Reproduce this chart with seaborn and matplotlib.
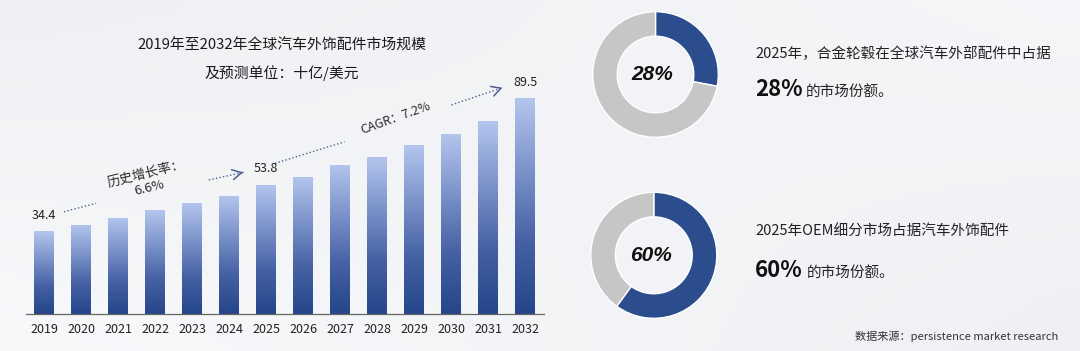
import numpy as np
import matplotlib
matplotlib.use("Agg")
import matplotlib.pyplot as plt
import seaborn as sns
from matplotlib.colors import LinearSegmentedColormap

# ---------------- data ----------------
years = ["2019", "2020", "2021", "2022", "2023", "2024", "2025",
         "2026", "2027", "2028", "2029", "2030", "2031", "2032"]
market_size = [34.4, 37.1, 39.9, 43.1, 46.0, 49.0, 53.8,
               57.0, 61.9, 65.2, 70.0, 74.9, 80.1, 89.5]
labeled_years = ["2019", "2025", "2032"]
title_lines = ["2019年至2032年全球汽车外饰配件市场规模", "及预测单位：十亿/美元"]
hist_label = "历史增长率：\n6.6%"
cagr_label = "CAGR：7.2%"

share_alloy = [28, 72]
share_oem = [60, 40]
share_alloy_label = "28%"
share_oem_label = "60%"
text_alloy = "2025年，合金轮毂在全球汽车外部配件中占据"
text_oem = "2025年OEM细分市场占据汽车外饰配件"
text_suffix = "的市场份额。"
source_text = "数据来源：persistence market research"

# ---------------- style ----------------
sns.set_theme(style="white")
plt.rcParams["font.family"] = ["Noto Sans CJK SC", "DejaVu Sans"]

W, H = 1080, 351
fig = plt.figure(figsize=(W / 100, H / 100), dpi=100)
fig.patch.set_facecolor("#f3f4f6")

def fx(px):
    return px / W

def fy(py):
    return 1 - py / H

# soft background gradient
bg = fig.add_axes([0, 0, 1, 1], zorder=-10)
gx = np.linspace(0, 1, 200)
gy = np.linspace(0, 1, 80)
GX, GY = np.meshgrid(gx, gy)
grad = 0.6 * (1 - GX) * (1 - GY) + 0.4 * GX * GY
bg_cmap = LinearSegmentedColormap.from_list("bg", ["#eef0f3", "#f8f9fb"])
bg.imshow(grad, cmap=bg_cmap, aspect="auto", extent=[0, 1, 0, 1], origin="lower")
bg.set_axis_off()

# ---------------- bar chart ----------------
BLUE_DARK = "#25458a"
ax = fig.add_axes([fx(25.8), 36.7 / H, fx(517.7), 294.3 / H])
ax.set_facecolor("none")
sns.barplot(x=years, y=market_size, color="#5a75b0", width=0.54,
            saturation=1, ax=ax)

bar_cmap = LinearSegmentedColormap.from_list(
    "bar", [BLUE_DARK, "#4561a4", "#7c93ca", "#b4c6ee"])
gvals = np.linspace(0, 1, 256).reshape(-1, 1)
for p in ax.patches:
    x0, y0 = p.get_x(), p.get_y()
    w, h = p.get_width(), p.get_height()
    im = ax.imshow(gvals, cmap=bar_cmap, origin="lower", aspect="auto",
                   extent=[x0, x0 + w, y0, y0 + h], zorder=p.get_zorder())
    im.set_clip_path(p)
    p.set_facecolor("none")
    p.set_edgecolor("none")

for yr in labeled_years:
    i = years.index(yr)
    v = market_size[i]
    ax.annotate(f"{v}", (i, v), xytext=(0, 11.5), textcoords="offset points",
                ha="center", va="center", fontsize=9, color="#222222")

LINE_C = "#4d5f8c"
dot = (0, (1, 1.6))
# dotted trend guides
ax.plot([0.53, 1.40], [42.5, 46.0], color=LINE_C, lw=1.0, linestyle=dot)
ax.plot([4.45, 5.40], [55.7, 58.9], color=LINE_C, lw=1.0, linestyle=dot)
ax.annotate("", xy=(5.45, 59.1), xytext=(5.30, 58.6),
            arrowprops=dict(arrowstyle="->,head_length=0.55,head_width=0.3",
                            color=LINE_C, lw=1.1))
ax.plot([6.24, 8.12], [62.6, 71.5], color=LINE_C, lw=1.0, linestyle=dot)
ax.plot([11.01, 12.40], [86.8, 94.0], color=LINE_C, lw=1.0, linestyle=dot)
ax.annotate("", xy=(12.46, 94.3), xytext=(12.25, 93.2),
            arrowprops=dict(arrowstyle="->,head_length=0.55,head_width=0.3",
                            color=LINE_C, lw=1.1))

ax.text(2.80, 55.3, hist_label, rotation=14, rotation_mode="anchor",
        ha="center", va="center", multialignment="center",
        fontsize=9.5, color="#2a2a2a", linespacing=1.1)
ax.text(9.51, 81.4, cagr_label, rotation=20, rotation_mode="anchor",
        ha="center", va="center", fontsize=9, color="#2a2a2a")

ax.set_xlim(-0.5, len(years) - 0.5)
ax.set_ylim(0, 122)
ax.set_xlabel("")
ax.set_ylabel("")
ax.set_yticks([])
ax.tick_params(axis="x", length=0, pad=6, labelsize=9, labelcolor="#222222")
for s in ["left", "top", "right"]:
    ax.spines[s].set_visible(False)
ax.spines["bottom"].set_color("#666666")
ax.spines["bottom"].set_linewidth(0.9)

fig.text(fx(282), fy(46), title_lines[0], ha="center", va="center",
         fontsize=10.7, color="#1a1a1a")
fig.text(fx(282), fy(72.7), title_lines[1], ha="center", va="center",
         fontsize=10.7, color="#1a1a1a")

# ---------------- donuts ----------------
DONUT_BLUE = "#2b4d8e"
DONUT_GREY = "#c6c6c6"

def donut(cx, cy, r, values, label):
    dax = fig.add_axes([fx(cx - r), (H - cy - r) / H, 2 * r / W, 2 * r / H])
    dax.pie(values, colors=[DONUT_BLUE, DONUT_GREY], startangle=90,
            counterclock=False,
            wedgeprops=dict(width=0.39, edgecolor="white", linewidth=1.0))
    dax.set_xlim(-1, 1)
    dax.set_ylim(-1, 1)
    dax.set_axis_off()
    dax.text(-0.05, 0.0, label, ha="center", va="center", fontsize=15,
             fontweight="bold", fontstyle="italic", color="#111111",
             family=["Liberation Sans", "DejaVu Sans"])

donut(655.5, 74.5, 62.8, share_alloy, share_alloy_label)
donut(653.8, 255.3, 63.0, share_oem, share_oem_label)

# ---------------- right texts ----------------
fig.text(fx(755), fy(53.3), text_alloy, ha="left", va="center",
         fontsize=10.5, color="#222222")
fig.text(fx(755), fy(96), share_alloy_label, ha="left", va="baseline",
         fontsize=16, fontweight="bold", color="#111111")
fig.text(fx(806), fy(95.5), text_suffix, ha="left", va="baseline",
         fontsize=10.5, color="#222222")

fig.text(fx(755), fy(232.3), text_oem, ha="left", va="center",
         fontsize=10.5, color="#222222")
fig.text(fx(755), fy(277), share_oem_label, ha="left", va="baseline",
         fontsize=16, fontweight="bold", color="#111111")
fig.text(fx(806.5), fy(276.5), text_suffix, ha="left", va="baseline",
         fontsize=10.5, color="#222222")

fig.text(fx(1058), fy(336.7), source_text, ha="right", va="center",
         fontsize=8, color="#333333")

fig.savefig("out.png", dpi=100, facecolor=fig.get_facecolor())
